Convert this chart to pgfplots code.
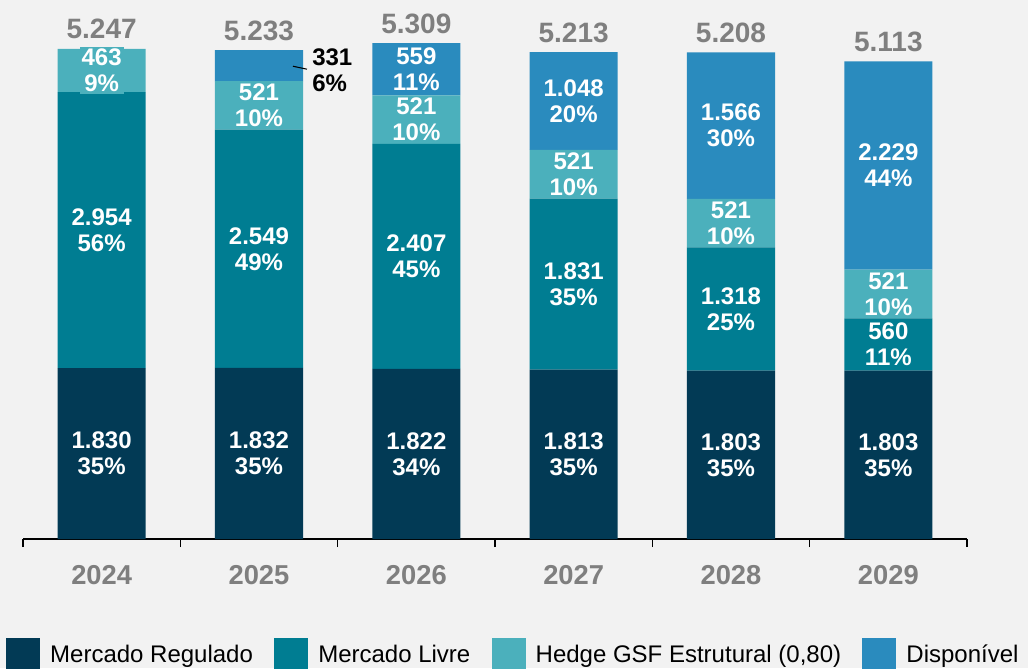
\documentclass[border=0pt]{standalone}
\usepackage{fontspec}
\setmainfont{Liberation Sans}
\usepackage{pgfplots}
\pgfplotsset{compat=1.18}
\usepackage{pgfplotstable}

\definecolor{regc}{HTML}{023A55}
\definecolor{livc}{HTML}{007D92}
\definecolor{hedc}{HTML}{4BB0BC}
\definecolor{disc}{HTML}{2A8BBE}
\definecolor{greyc}{HTML}{7F7F7F}
\definecolor{bgc}{HTML}{F2F2F2}

% x = year index (2024 = 0), y = value, mid = centre of the stacked segment
\pgfplotstableread{
x y mid lab
0 1830 915 {1.830\\35\%}
1 1832 916 {1.832\\35\%}
2 1822 911 {1.822\\34\%}
3 1813 906.5 {1.813\\35\%}
4 1803 901.5 {1.803\\35\%}
5 1803 901.5 {1.803\\35\%}
}\regtab
\pgfplotstableread{
x y mid lab
0 2954 3307 {2.954\\56\%}
1 2549 3106.5 {2.549\\49\%}
2 2407 3025.5 {2.407\\45\%}
3 1831 2728.5 {1.831\\35\%}
4 1318 2462 {1.318\\25\%}
5 560 2083 {560\\11\%}
}\livtab
\pgfplotstableread{
x y mid lab
0 463 5015.5 {463\\9\%}
1 521 4641.5 {521\\10\%}
2 521 4489.5 {521\\10\%}
3 521 3904.5 {521\\10\%}
4 521 3381.5 {521\\10\%}
5 521 2623.5 {521\\10\%}
}\hedtab
\pgfplotstableread{
x y mid lab
0 0 0 {}
1 331 5067.5 {}
2 559 5029.5 {559\\11\%}
3 1048 4689 {1.048\\20\%}
4 1566 4425 {1.566\\30\%}
5 2229 3998.5 {2.229\\44\%}
}\distab
\pgfplotstableread{
x y lab
0 5247 5.247
1 5233 5.233
2 5309 5.309
3 5213 5.213
4 5208 5.208
5 5113 5.113
}\tottab

\pgfplotsset{
  base/.style={width=708pt, height=404.25pt, scale only axis,
    xmin=-0.5, xmax=5.5, ymin=0, ymax=5770,
    at={(17.25pt,96.75pt)}, anchor=south west},
  seglab/.style={draw=none, nodes near coords, point meta=explicit symbolic,
    every node near coord/.style={anchor=center, align=center, text=white,
      inner sep=1.5pt, font=\fontsize{18}{19.5}\selectfont\bfseries}},
}

\begin{document}
\begin{tikzpicture}
\path[use as bounding box, clip] (0,0) rectangle (771pt,501pt);
\fill[bgc] (0,0) rectangle (771pt,501pt);

\begin{axis}[base, ybar stacked, bar width=0.56,
  axis x line=bottom, axis y line=none,
  axis line style={-, line width=1.5pt, black},
  xtick={0,...,5}, xticklabels={2024,2025,2026,2027,2028,2029},
  major tick length=0pt,
  minor xtick={-0.5,0.5,...,5.5}, minor tick length=6pt, tick align=outside,
  minor tick style={line width=1.1pt, black},
  xticklabel style={font=\fontsize{20.5}{20.5}\selectfont\bfseries, text=greyc,
    inner sep=0pt, yshift=-19.5pt},
  legend columns=4,
  legend style={at={(0.5198,-0.2159)}, anchor=center, draw=none, fill=none,
    font=\fontsize{18}{20}\selectfont,
    /tikz/every odd column/.append style={column sep=5.5pt},
    /tikz/every even column/.append style={column sep=14pt}},
  legend image code/.code={\fill[#1] (0pt,-13.5pt) rectangle (25.5pt,12pt);},
]
\addplot[fill=regc, draw=none] table[x=x, y=y] {\regtab};
\addlegendentry{Mercado Regulado}
\addplot[fill=livc, draw=none] table[x=x, y=y] {\livtab};
\addlegendentry{Mercado Livre}
\addplot[fill=hedc, draw=none] table[x=x, y=y] {\hedtab};
\addlegendentry{Hedge GSF Estrutural (0,80)}
\addplot[fill=disc, draw=none] table[x=x, y=y] {\distab};
\addlegendentry{Disponível}
\end{axis}

\begin{axis}[base, hide axis, clip=false]
\addplot[seglab] table[x=x, y=mid, meta=lab] {\regtab};
\addplot[seglab] table[x=x, y=mid, meta=lab] {\livtab};
\addplot[seglab, every node near coord/.append style={fill=hedc}] table[x=x, y=mid, meta=lab] {\hedtab};
\addplot[seglab] table[x=x, y=mid, meta=lab] {\distab};
\addplot[draw=none, nodes near coords, point meta=explicit symbolic,
  every node near coord/.style={anchor=base, yshift=7.5pt, text=greyc,
    font=\fontsize{21}{21}\selectfont\bfseries}]
  table[x=x, y=y, meta=lab] {\tottab};
\addplot[draw=none, nodes near coords={331\\6\%},
  every node near coord/.style={anchor=west, align=left, inner sep=0pt,
    text=black, font=\fontsize{18}{19.5}\selectfont\bfseries}]
  coordinates {(1.337,5018)};
\addplot[black, line width=0.8pt] coordinates {(1.216,5061) (1.305,5029)};
\end{axis}
\end{tikzpicture}
\end{document}
